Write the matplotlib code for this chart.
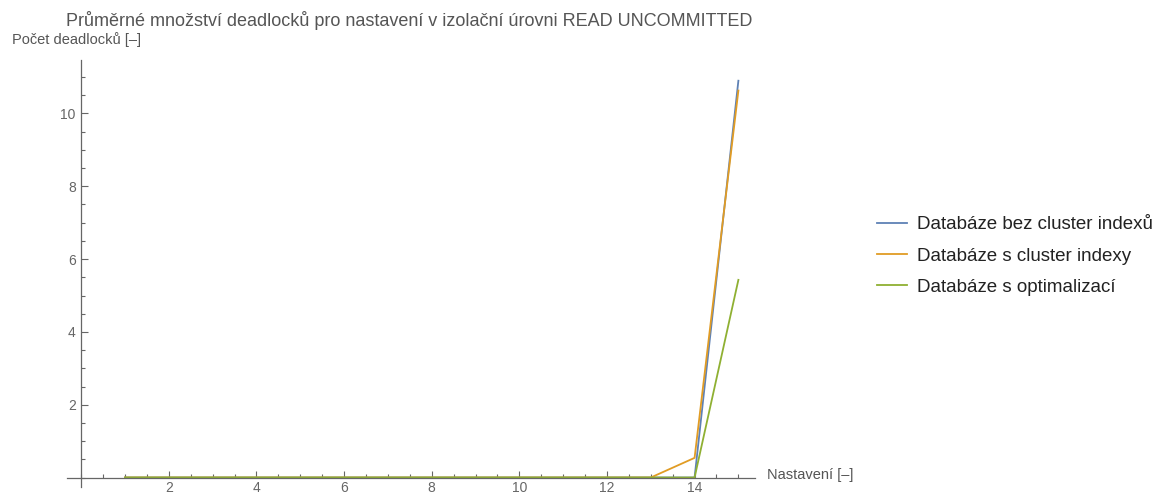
import numpy as np
import matplotlib
matplotlib.use("Agg")
from matplotlib import pyplot as plt
from matplotlib.ticker import MultipleLocator, FixedLocator

plt.rcParams['font.family'] = ['Liberation Sans', 'DejaVu Sans']

# data
nastaveni = list(range(1, 16))
bez_indexu = [0, 0, 0, 0, 0, 0, 0, 0, 0, 0, 0, 0, 0, 0, 10.9]
s_indexy = [0, 0, 0, 0, 0, 0, 0, 0, 0, 0, 0, 0, 0, 0.54, 10.63]
s_optimalizaci = [0, 0, 0, 0, 0, 0, 0, 0, 0, 0, 0, 0, 0, 0, 5.43]
labels = ["Databáze bez cluster indexů", "Databáze s cluster indexy", "Databáze s optimalizací"]
colors = ["#5E81B5", "#E19C24", "#8FB032"]

fig = plt.figure(figsize=(11.65, 4.94), dpi=100)
ax = fig.add_axes([0.0573, 0.0142, 0.5908, 0.8644])

for ys, lab, c in zip([bez_indexu, s_indexy, s_optimalizaci], labels, colors):
    ax.plot(nastaveni, ys, color=c, lw=1.3, label=lab, clip_on=False)

ax.set_xlim(-0.33, 15.38)
ax.set_ylim(-0.26, 11.47)

# mathematica style axes through origin
ax.spines['left'].set_position(('data', 0))
ax.spines['bottom'].set_position(('data', 0))
ax.spines['top'].set_visible(False)
ax.spines['right'].set_visible(False)
for s in ['left', 'bottom']:
    ax.spines[s].set_color('#666666')
    ax.spines[s].set_linewidth(0.9)

ax.xaxis.set_major_locator(FixedLocator([2, 4, 6, 8, 10, 12, 14]))
ax.yaxis.set_major_locator(FixedLocator([2, 4, 6, 8, 10]))
ax.xaxis.set_minor_locator(MultipleLocator(0.5))
ax.yaxis.set_minor_locator(MultipleLocator(0.5))
ax.tick_params(which='both', direction='in', color='#666666', width=0.8,
               labelsize=10, labelcolor='#666666')
ax.tick_params(which='major', length=5, pad=4)
ax.tick_params(axis='x', which='major', pad=2.5)
ax.tick_params(which='minor', length=3)

fig.text(409 / 1165, 1 - 21 / 494,
         "Průměrné množství deadlocků pro nastavení v izolační úrovni READ UNCOMMITTED",
         ha='center', va='center', fontsize=13, color='#555555')
fig.text(12 / 1165, 1 - 40 / 494, "Počet deadlocků [–]", ha='left', va='center',
         fontsize=10.5, color='#555555')
fig.text(767 / 1165, 1 - 475 / 494, "Nastavení [–]", ha='left', va='center',
         fontsize=10.5, color='#555555')

fig.legend(loc='center left', bbox_to_anchor=(877 / 1165, 1 - 256 / 494),
           frameon=False, fontsize=13.5, handlelength=1.6, handletextpad=0.55,
           labelspacing=0.75, borderpad=0, borderaxespad=0, labelcolor='#222222')

fig.savefig("out.png", dpi=100)
